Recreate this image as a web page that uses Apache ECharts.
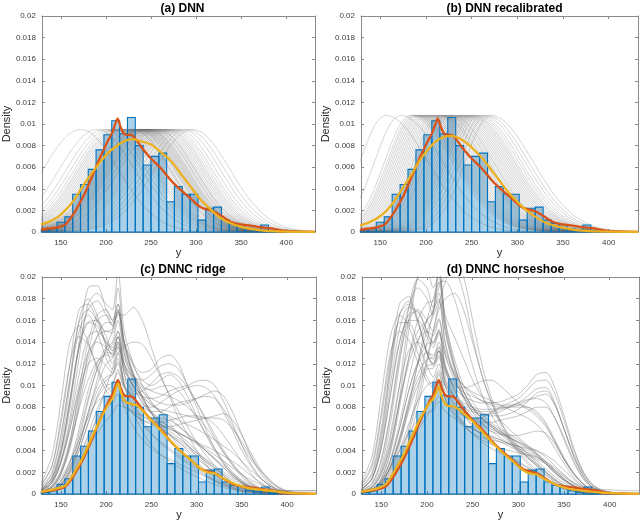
<!DOCTYPE html>
<html>
<head>
<meta charset="utf-8">
<title>DNN densities</title>
<script src="https://cdn.jsdelivr.net/npm/echarts@6/dist/echarts.min.js"></script>
<style>
html, body { margin: 0; padding: 0; background: #fff; }
#container { width: 640px; height: 525px; }
</style>
</head>
<body>
<div id="container"></div>
<script>
// densities are stored in units of 1e-4 (axis labels show real values)
var xMin = 129, xMax = 432;
var xTicks = [150, 200, 250, 300, 350, 400];
var yTicks = ['0', '0.002', '0.004', '0.006', '0.008', '0.01', '0.012', '0.014', '0.016', '0.018', '0.02'];
var titles = ['(a) DNN', '(b) DNN recalibrated', '(c) DNNC ridge', '(d) DNNC horseshoe'];

// histogram of observed y
var binEdges = [128.3, 137.0, 145.7, 154.4, 163.1, 171.8, 180.4, 189.1, 197.8, 206.5, 215.2, 223.9, 232.6, 241.3, 250.0,
    258.7, 267.4, 276.0, 284.7, 293.4, 302.1, 310.8, 319.5, 328.2, 336.9, 345.6, 354.3, 363.0, 371.7, 380.4, 389.1];
var binHeights = [2, 3, 9, 14, 35, 44, 58, 76, 90, 103, 91, 106, 80, 62, 70, 73, 28, 42, 35, 35, 11, 22, 23, 11, 8, 7, 3, 2, 6.5, 1];

// kernel density of the data (orange), same in every panel
var kdeLine = [[128, 2], [135, 3], [145, 4], [155, 7], [165, 18], [175, 33], [184, 50], [193, 68], [202, 84], [207, 92],
    [210, 99], [213, 105], [216, 98], [220, 91], [224, 90], [228, 90], [233, 86], [239, 79], [250, 68], [261, 59],
    [272, 48], [283, 39], [294, 31], [305, 23], [312, 21], [320, 19], [328, 15], [340, 9], [350, 7], [360, 6],
    [371, 4.6], [382, 3.5], [395, 1.5], [410, 0.5], [432, 0.2]];

// average predictive density (yellow), one per panel
var meanA = [[128, 7], [138, 10], [147, 14], [156, 21], [165, 30], [174, 42], [184, 54], [193, 64], [202, 73], [211, 79],
    [220, 84], [230, 86], [239, 84], [250, 81], [261, 74], [272, 66], [283, 54], [294, 42], [305, 30], [316, 21],
    [327, 13], [338, 8.3], [349, 5], [360, 3], [375, 1.3], [390, 0.6], [410, 0.2], [432, 0]];
var meanB = [[128, 6], [138, 9], [147, 13], [156, 19], [165, 28], [174, 40], [184, 53], [193, 66], [202, 76], [211, 84],
    [220, 88], [228, 89], [236, 87], [245, 82], [254, 75], [263, 67], [272, 57], [281, 47], [290, 37], [300, 28],
    [310, 20], [320, 14], [330, 9], [340, 6], [350, 4], [362, 2], [375, 1], [390, 0.5], [410, 0.2], [432, 0]];
var meanC = [[128, 2], [135, 3], [145, 5], [155, 8], [165, 20], [175, 35], [184, 52], [193, 68], [202, 82], [207, 88],
    [210, 95], [213, 102], [216, 95], [220, 86], [224, 84], [228, 83], [233, 82], [239, 78], [250, 68], [261, 58],
    [272, 48], [283, 39], [294, 31], [305, 23], [312, 20], [320, 19], [328, 15], [340, 10], [350, 7], [360, 5],
    [371, 4], [382, 3], [395, 1.5], [410, 0.5], [432, 0.2]];
var meanD = [[128, 2], [135, 3], [145, 5], [155, 9], [165, 22], [175, 37], [184, 54], [193, 70], [202, 83], [207, 88],
    [210, 93], [213, 99], [216, 90], [220, 83], [224, 81], [228, 81], [233, 79], [239, 75], [250, 67], [261, 57],
    [272, 47], [283, 38], [294, 30], [305, 22], [312, 19], [320, 18], [328, 14], [340, 9], [350, 6], [360, 4],
    [371, 3], [382, 2], [395, 1], [410, 0.5], [432, 0.2]];

// (a),(b): every predictive curve has the same shape, only its centre moves
var profileOffsets = [-160, -150, -140, -130, -120, -110, -100, -90, -80, -70, -60, -50, -40, -30, -20, -10, 0,
    10, 20, 30, 40, 50, 60, 70, 80, 90, 100, 110, 120, 130, 140, 150, 160];
var profileA = [0.1, 0.2, 0.4, 0.8, 1.6, 3.1, 5.6, 9.6, 15.5, 23.7, 34.2, 46.8, 60.3, 73.7, 84.8, 92.4, 95,
    92.4, 84.8, 73.7, 60.3, 46.8, 34.2, 23.7, 15.5, 9.6, 5.6, 3.1, 1.6, 0.8, 0.4, 0.2, 0.1];
var profileB = [0, 0, 0, 0, 0, 0, 0.2, 0.6, 1.8, 4.7, 10.9, 21.9, 38.9, 60.8, 83.7, 101.3, 108,
    105.5, 98.3, 87.3, 74, 59.8, 46.1, 33.9, 23.8, 15.9, 10.2, 6.2, 3.6, 2.0, 1.05, 0.5, 0.25];
var centresA = [172, 190, 198, 203, 207, 210, 212, 214, 216, 218, 220, 222, 224, 226, 228, 229, 230, 231, 233, 234,
    235, 236, 237, 238, 239, 240, 241, 242, 243, 244, 245, 246, 247, 248, 249, 250, 252, 253, 254, 256, 257, 258,
    260, 262, 264, 266, 268, 270, 273, 276, 280, 285, 290, 296];
var centresB = [156, 172, 183, 186, 188, 190, 192, 194, 196, 198, 200, 202, 204, 206, 208, 210, 212, 214, 215, 217,
    218, 220, 222, 223, 225, 227, 228, 230, 232, 234, 236, 238, 240, 242, 244, 246, 248, 250, 252, 255, 258, 262,
    266, 271];

// (c),(d): individual predictive curves read at these y positions
var cdX = [128, 140, 150, 160, 170, 180, 190, 200, 207, 213, 220, 230, 240, 250, 260, 270, 280, 290, 300, 310, 320,
    330, 340, 350, 360, 370, 380, 390, 400, 415, 432];
var curvesC = [
    [5, 15, 40, 85, 140, 190, 192, 170, 160, 175, 140, 110, 90, 75, 62, 55, 45, 38, 30, 22, 15, 10, 7, 5, 3, 2, 1, 0, 0, 0, 0],
    [3, 10, 30, 70, 125, 175, 185, 175, 170, 205, 150, 120, 100, 85, 75, 65, 55, 45, 35, 27, 20, 14, 9, 6, 4, 2, 1, 0, 0, 0, 0],
    [8, 25, 65, 120, 170, 175, 160, 140, 135, 150, 120, 100, 85, 75, 70, 68, 62, 55, 48, 40, 32, 24, 17, 11, 7, 4, 2, 1, 0, 0, 0],
    [2, 5, 12, 25, 45, 75, 105, 135, 150, 165, 165, 172, 160, 135, 110, 90, 70, 55, 40, 28, 18, 11, 6, 3, 2, 1, 0, 0, 0, 0, 0],
    [2, 6, 18, 45, 85, 130, 160, 165, 155, 170, 140, 120, 112, 115, 125, 128, 120, 100, 80, 60, 42, 28, 18, 11, 6, 3, 2, 1, 0, 0, 0],
    [1, 4, 10, 25, 50, 85, 115, 130, 130, 145, 120, 108, 105, 110, 118, 120, 115, 100, 85, 70, 55, 40, 28, 18, 10, 5, 3, 1, 0, 0, 0],
    [1, 3, 8, 20, 40, 65, 90, 105, 110, 125, 105, 95, 90, 88, 90, 95, 98, 100, 104, 105, 100, 85, 65, 45, 28, 16, 8, 4, 2, 0, 0],
    [1, 2, 6, 15, 32, 55, 78, 95, 100, 115, 98, 88, 82, 80, 84, 90, 95, 98, 100, 98, 90, 75, 58, 40, 26, 15, 8, 3, 1, 0, 0],
    [6, 20, 55, 105, 150, 165, 150, 125, 115, 130, 100, 80, 65, 55, 48, 42, 36, 30, 24, 18, 13, 9, 6, 4, 2, 1, 0, 0, 0, 0, 0],
    [2, 8, 22, 50, 90, 125, 145, 150, 148, 170, 135, 110, 90, 75, 65, 58, 52, 45, 38, 30, 22, 15, 10, 6, 4, 2, 1, 0, 0, 0, 0],
    [3, 10, 28, 60, 100, 130, 140, 135, 128, 140, 115, 100, 90, 82, 78, 76, 74, 72, 70, 70, 70, 68, 60, 48, 35, 22, 12, 6, 3, 3, 3],
    [2, 6, 15, 30, 50, 70, 85, 90, 90, 100, 88, 80, 72, 66, 60, 55, 50, 44, 38, 32, 26, 20, 15, 10, 6, 4, 2, 1, 0, 0, 0],
    [4, 15, 45, 100, 160, 180, 165, 135, 120, 135, 100, 75, 58, 45, 37, 30, 25, 20, 16, 12, 9, 6, 4, 2, 1, 0, 0, 0, 0, 0, 0],
    [2, 7, 20, 48, 95, 140, 165, 170, 160, 175, 140, 118, 105, 100, 105, 110, 104, 90, 72, 55, 40, 28, 18, 11, 6, 3, 1, 0, 0, 0, 0],
    [1, 3, 9, 22, 45, 75, 100, 120, 125, 138, 120, 105, 95, 88, 84, 82, 82, 84, 88, 90, 88, 78, 62, 45, 32, 22, 14, 7, 3, 1, 0],
    [3, 10, 30, 65, 110, 145, 150, 140, 132, 145, 118, 98, 84, 74, 67, 62, 57, 52, 46, 40, 33, 26, 19, 13, 8, 5, 3, 3, 3, 3, 3],
    [1, 3, 8, 16, 28, 42, 56, 68, 74, 82, 80, 76, 72, 68, 64, 60, 56, 52, 47, 42, 36, 30, 24, 18, 13, 9, 6, 3, 2, 1, 0],
    [10, 35, 85, 140, 155, 140, 115, 95, 90, 105, 80, 62, 50, 42, 36, 32, 28, 24, 20, 16, 12, 8, 5, 3, 2, 1, 0, 0, 0, 0, 0],
    [1, 4, 12, 30, 60, 95, 120, 135, 140, 160, 130, 110, 100, 95, 92, 90, 86, 80, 72, 62, 50, 38, 27, 18, 11, 6, 3, 1, 0, 0, 0],
    [1, 3, 9, 22, 45, 72, 95, 108, 110, 120, 100, 88, 80, 76, 76, 80, 84, 86, 88, 92, 95, 90, 75, 55, 35, 20, 10, 4, 2, 0, 0],
    [4, 12, 30, 60, 95, 120, 125, 118, 112, 122, 102, 88, 78, 70, 64, 60, 56, 52, 48, 44, 40, 35, 30, 24, 17, 11, 6, 3, 1, 0, 0],
    [1, 3, 8, 20, 40, 65, 88, 100, 102, 112, 98, 92, 95, 102, 110, 112, 108, 98, 84, 68, 52, 38, 26, 16, 9, 5, 2, 1, 0, 0, 0],
    [3, 12, 35, 80, 135, 170, 178, 165, 155, 168, 130, 105, 88, 76, 68, 62, 55, 48, 40, 32, 24, 17, 11, 7, 4, 2, 1, 0, 0, 0, 0],
    [2, 6, 18, 42, 80, 118, 145, 158, 158, 168, 138, 112, 95, 84, 76, 70, 63, 56, 48, 40, 32, 24, 16, 10, 6, 3, 1, 0, 0, 0, 0],
    [8, 26, 70, 120, 145, 138, 118, 100, 94, 106, 86, 74, 68, 66, 66, 68, 70, 72, 72, 70, 64, 54, 42, 30, 19, 10, 5, 2, 1, 0, 0],
    [4, 14, 40, 88, 135, 158, 155, 138, 128, 140, 112, 92, 78, 68, 60, 54, 48, 42, 36, 30, 24, 18, 13, 9, 5, 3, 1, 0, 0, 0, 0],
    [1, 4, 12, 28, 55, 88, 115, 132, 138, 150, 125, 108, 98, 96, 99, 100, 95, 84, 70, 56, 42, 30, 20, 12, 7, 3, 1, 0, 0, 0, 0],
    [1, 3, 8, 18, 34, 52, 68, 80, 84, 92, 82, 74, 68, 64, 62, 62, 64, 66, 68, 70, 72, 74, 68, 54, 38, 24, 13, 6, 2, 0, 0],
    [3, 12, 38, 85, 135, 158, 160, 145, 132, 145, 110, 85, 68, 56, 47, 40, 34, 28, 22, 17, 12, 8, 5, 3, 2, 1, 0, 0, 0, 0, 0],
    [1, 2, 6, 14, 28, 48, 72, 98, 115, 130, 136, 140, 138, 125, 108, 92, 76, 62, 48, 36, 26, 17, 10, 6, 3, 1, 0, 0, 0, 0, 0],
    [2, 7, 20, 45, 78, 105, 122, 128, 126, 136, 115, 100, 90, 82, 76, 72, 68, 64, 60, 55, 50, 44, 38, 30, 22, 15, 9, 4, 2, 1, 0],
    [5, 18, 52, 108, 158, 170, 160, 150, 152, 190, 140, 108, 88, 74, 64, 56, 48, 40, 33, 26, 19, 13, 8, 5, 3, 1, 0, 0, 0, 0, 0]
];
var curvesD = [
    [6, 20, 60, 120, 175, 182, 160, 130, 120, 132, 100, 80, 65, 55, 48, 42, 38, 34, 30, 25, 20, 14, 9, 5, 3, 1, 0, 0, 0, 0, 0],
    [2, 6, 20, 50, 100, 160, 200, 205, 190, 200, 150, 115, 90, 75, 65, 58, 52, 46, 40, 33, 26, 18, 12, 7, 4, 2, 1, 0, 0, 0, 0],
    [2, 6, 18, 45, 85, 125, 150, 160, 170, 212, 160, 125, 100, 85, 74, 66, 60, 55, 50, 44, 37, 28, 19, 12, 7, 4, 2, 1, 0, 0, 0],
    [1, 3, 8, 18, 35, 60, 95, 140, 170, 190, 200, 205, 185, 145, 110, 85, 65, 50, 38, 28, 20, 13, 8, 5, 3, 1, 0, 0, 0, 0, 0],
    [4, 15, 50, 110, 165, 178, 160, 130, 118, 128, 100, 82, 72, 68, 70, 75, 80, 84, 88, 96, 104, 105, 92, 68, 42, 22, 10, 4, 2, 1, 0],
    [1, 4, 12, 30, 60, 95, 120, 130, 128, 140, 115, 98, 90, 86, 84, 84, 85, 88, 92, 100, 110, 112, 98, 72, 44, 22, 9, 3, 1, 0, 0],
    [3, 10, 30, 72, 125, 160, 170, 160, 150, 162, 128, 105, 90, 80, 74, 72, 72, 74, 78, 85, 93, 95, 82, 60, 38, 20, 9, 4, 2, 0, 0],
    [2, 6, 18, 44, 85, 120, 142, 150, 146, 160, 132, 112, 100, 92, 86, 82, 80, 80, 80, 80, 76, 66, 50, 34, 20, 10, 4, 2, 1, 0, 0],
    [10, 35, 90, 145, 165, 155, 130, 108, 100, 112, 88, 72, 62, 56, 52, 50, 48, 46, 44, 42, 40, 36, 30, 22, 14, 7, 3, 1, 0, 0, 0],
    [1, 4, 12, 32, 65, 105, 140, 160, 168, 185, 150, 118, 95, 80, 70, 63, 57, 52, 47, 42, 36, 28, 20, 13, 8, 4, 2, 1, 0, 0, 0],
    [2, 8, 25, 65, 120, 170, 198, 190, 172, 180, 140, 110, 90, 78, 70, 64, 58, 52, 45, 38, 31, 23, 16, 10, 6, 3, 1, 0, 0, 0, 0],
    [1, 3, 10, 25, 50, 80, 105, 118, 120, 132, 112, 100, 98, 100, 104, 105, 100, 92, 84, 78, 72, 62, 48, 32, 19, 10, 4, 2, 1, 0, 0],
    [4, 14, 42, 90, 140, 165, 168, 150, 138, 150, 118, 96, 82, 72, 65, 60, 56, 52, 48, 44, 40, 34, 26, 18, 11, 7, 5, 4, 4, 3, 3],
    [1, 2, 6, 14, 26, 42, 58, 72, 80, 90, 84, 78, 72, 68, 66, 66, 68, 70, 72, 76, 80, 80, 70, 52, 32, 16, 7, 3, 1, 0, 0],
    [1, 2, 6, 14, 28, 50, 80, 120, 150, 175, 195, 212, 200, 160, 120, 90, 68, 52, 40, 30, 22, 15, 9, 5, 3, 1, 0, 0, 0, 0, 0],
    [8, 28, 75, 130, 150, 142, 122, 104, 98, 110, 88, 74, 66, 60, 56, 53, 50, 47, 44, 40, 35, 28, 20, 13, 8, 4, 2, 1, 0, 0, 0],
    [1, 4, 12, 30, 60, 95, 122, 138, 140, 150, 128, 110, 100, 94, 90, 86, 82, 78, 74, 70, 64, 55, 42, 28, 16, 8, 3, 1, 0, 0, 0],
    [1, 3, 8, 20, 40, 64, 86, 100, 104, 114, 100, 90, 84, 80, 78, 78, 79, 81, 84, 87, 88, 84, 70, 50, 30, 15, 6, 2, 1, 0, 0],
    [3, 10, 32, 75, 130, 172, 190, 180, 165, 178, 138, 108, 88, 76, 68, 62, 56, 50, 44, 37, 29, 21, 14, 8, 4, 2, 1, 0, 0, 0, 0],
    [2, 5, 12, 24, 40, 56, 68, 75, 77, 85, 76, 70, 64, 60, 56, 52, 48, 44, 40, 36, 32, 28, 22, 16, 10, 6, 3, 1, 0, 0, 0],
    [1, 3, 10, 25, 50, 85, 120, 150, 165, 205, 165, 145, 125, 105, 90, 78, 68, 60, 52, 45, 38, 30, 22, 14, 8, 4, 2, 1, 0, 0, 0],
    [5, 18, 55, 115, 165, 175, 158, 130, 120, 132, 104, 85, 72, 64, 58, 54, 50, 46, 42, 38, 34, 28, 20, 13, 7, 3, 1, 0, 0, 0, 0],
    [1, 4, 14, 40, 88, 150, 200, 215, 200, 205, 160, 120, 95, 80, 70, 62, 55, 48, 41, 34, 27, 20, 13, 8, 4, 2, 1, 0, 0, 0, 0],
    [4, 14, 45, 100, 152, 172, 168, 150, 140, 152, 120, 96, 80, 70, 63, 58, 55, 54, 54, 56, 58, 56, 46, 32, 20, 10, 4, 1, 0, 0, 0],
    [1, 3, 9, 22, 45, 80, 120, 160, 180, 195, 196, 180, 150, 118, 92, 74, 60, 50, 42, 35, 28, 20, 13, 8, 4, 2, 1, 0, 0, 0, 0],
    [2, 7, 22, 55, 100, 132, 140, 132, 124, 135, 108, 90, 80, 76, 74, 74, 76, 80, 84, 90, 97, 98, 84, 60, 36, 18, 7, 3, 1, 0, 0],
    [7, 25, 70, 125, 158, 158, 140, 118, 108, 120, 94, 76, 64, 56, 50, 46, 42, 40, 38, 36, 34, 30, 24, 17, 10, 5, 2, 1, 0, 0, 0],
    [1, 4, 14, 38, 80, 125, 160, 176, 178, 195, 155, 118, 94, 80, 70, 64, 58, 53, 48, 43, 37, 30, 22, 14, 8, 4, 2, 1, 0, 0, 0],
    [1, 3, 10, 26, 52, 84, 110, 124, 126, 136, 116, 102, 94, 90, 86, 84, 82, 82, 82, 80, 74, 64, 48, 32, 19, 10, 4, 2, 1, 0, 0],
    [4, 14, 42, 92, 140, 160, 160, 145, 135, 148, 115, 90, 74, 62, 54, 47, 41, 35, 29, 24, 19, 14, 10, 6, 3, 1, 0, 0, 0, 0, 0],
    [1, 3, 9, 24, 48, 76, 100, 115, 116, 126, 104, 90, 82, 78, 76, 76, 78, 80, 82, 86, 90, 92, 82, 60, 36, 18, 7, 3, 1, 0, 0],
    [1, 2, 7, 16, 32, 56, 88, 125, 150, 170, 180, 185, 170, 140, 110, 86, 68, 54, 43, 34, 26, 18, 11, 6, 3, 1, 0, 0, 0, 0, 0]
];

var myChart = echarts.init(document.getElementById('container'));

var fontFamily = 'Liberation Sans, Arial, sans-serif';
var axisColor = '#8a8a8a';
var labelColor = '#404040';

var grids = [
    {left: 40, top: 16, width: 275, height: 216},
    {left: 361, top: 16, width: 277, height: 216},
    {left: 40, top: 277, width: 276, height: 217},
    {left: 362, top: 277, width: 277, height: 217}
];

var xAxes = [], yAxes = [], titleList = [];
grids.forEach(function (g, i) {
    titleList.push({
        text: titles[i],
        left: g.left + g.width / 2,
        top: g.top - 18,
        textAlign: 'center',
        textStyle: {fontSize: 12, fontWeight: 'bold', color: '#000', fontFamily: fontFamily}
    });
    // bottom x axis with labels
    xAxes.push({
        gridIndex: i, type: 'value', min: xMin, max: xMax, splitNumber: 6, position: 'bottom',
        name: 'y', nameLocation: 'middle', nameGap: 15,
        nameTextStyle: {fontSize: 11, color: '#262626', fontFamily: fontFamily},
        axisLine: {onZero: false, lineStyle: {color: axisColor, width: 1}},
        axisTick: {inside: true, length: 3, lineStyle: {color: axisColor}},
        axisLabel: {
            color: labelColor, fontSize: 8, margin: 7, fontFamily: fontFamily,
            showMinLabel: false, showMaxLabel: false,
            formatter: function (v) { return xTicks.indexOf(v) >= 0 ? String(v) : ''; }
        },
        splitLine: {show: false}
    });
    // top x axis, box edge only
    xAxes.push({
        gridIndex: i, type: 'value', min: xMin, max: xMax, splitNumber: 6, position: 'top',
        axisLine: {onZero: false, lineStyle: {color: axisColor, width: 1}},
        axisTick: {inside: true, length: 3, lineStyle: {color: axisColor}},
        axisLabel: {show: false},
        splitLine: {show: false}
    });
    yAxes.push({
        gridIndex: i, type: 'value', min: 0, max: 200, interval: 20, position: 'left',
        name: 'Density', nameLocation: 'middle', nameGap: 28,
        nameTextStyle: {fontSize: 11, color: '#262626', fontFamily: fontFamily},
        axisLine: {show: true, onZero: false, lineStyle: {color: axisColor, width: 1}},
        axisTick: {show: true, inside: true, length: 3, lineStyle: {color: axisColor}},
        axisLabel: {
            color: labelColor, fontSize: 8, margin: 6, fontFamily: fontFamily,
            formatter: function (v) { return yTicks[Math.round(v / 20)]; }
        },
        splitLine: {show: false}
    });
    yAxes.push({
        gridIndex: i, type: 'value', min: 0, max: 200, interval: 20, position: 'right',
        axisLine: {show: true, onZero: false, lineStyle: {color: axisColor, width: 1}},
        axisTick: {show: true, inside: true, length: 3, lineStyle: {color: axisColor}},
        axisLabel: {show: false},
        splitLine: {show: false}
    });
});

function grayLine(i, data, color, width) {
    return {
        type: 'line', xAxisIndex: 2 * i, yAxisIndex: 2 * i, data: data,
        showSymbol: false, smooth: 0.3, silent: true, z: 3,
        lineStyle: {color: color, width: width}
    };
}

// 直方图：自定义矩形（填充在灰线下面，边框在灰线上面）
function histSeries(i, part) {
    var data = binHeights.map(function (h, k) { return [binEdges[k], binEdges[k + 1], h]; });
    return {
        type: 'custom', xAxisIndex: 2 * i, yAxisIndex: 2 * i, data: data,
        z: part === 'fill' ? 2 : 4, silent: true,
        encode: {x: [0, 1], y: 2},
        renderItem: function (params, api) {
            var p0 = api.coord([api.value(0), api.value(2)]);
            var p1 = api.coord([api.value(1), 0]);
            return {
                type: 'rect',
                shape: {x: p0[0], y: p0[1], width: p1[0] - p0[0], height: p1[1] - p0[1]},
                style: part === 'fill'
                    ? {fill: 'rgba(0,114,189,0.33)', stroke: null}
                    : {fill: null, stroke: '#0072BD', lineWidth: 1.1}
            };
        }
    };
}

function curve(i, data, color, z) {
    return {
        type: 'line', xAxisIndex: 2 * i, yAxisIndex: 2 * i, data: data,
        showSymbol: false, smooth: 0.3, silent: true, z: z,
        lineStyle: {color: color, width: 2.3}
    };
}

var series = [];
for (var i = 0; i < 4; i++) {
    series.push(histSeries(i, 'fill'));
}
centresA.forEach(function (m) {
    series.push(grayLine(0, profileOffsets.map(function (d, k) { return [m + d, profileA[k]]; }), 'rgba(100,100,100,0.36)', 0.7));
});
centresB.forEach(function (m) {
    series.push(grayLine(1, profileOffsets.map(function (d, k) { return [m + d, profileB[k]]; }), 'rgba(100,100,100,0.38)', 0.7));
});
curvesC.forEach(function (c) {
    series.push(grayLine(2, cdX.map(function (x, k) { return [x, c[k]]; }), 'rgba(110,110,110,0.5)', 0.8));
});
curvesD.forEach(function (c) {
    series.push(grayLine(3, cdX.map(function (x, k) { return [x, c[k]]; }), 'rgba(110,110,110,0.5)', 0.8));
});
var means = [meanA, meanB, meanC, meanD];
for (var j = 0; j < 4; j++) {
    series.push(histSeries(j, 'edge'));
    series.push(curve(j, kdeLine, '#D95319', 5));
    series.push(curve(j, means[j], '#EDB120', 6));
}

var option = {
    animation: false,
    backgroundColor: '#fff',
    title: titleList,
    grid: grids,
    xAxis: xAxes,
    yAxis: yAxes,
    series: series
};
myChart.setOption(option);
</script>
</body>
</html>
